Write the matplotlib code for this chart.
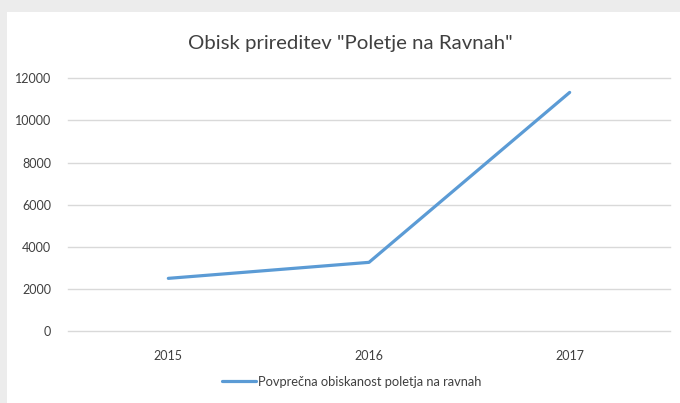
import matplotlib.pyplot as plt
from matplotlib.patches import Rectangle

years = ['2015', '2016', '2017']
obisk = [2500, 3260, 11330]
yticks = [0, 2000, 4000, 6000, 8000, 10000, 12000]

plt.rcParams['font.family'] = ['Lato', 'DejaVu Sans']

fig = plt.figure(figsize=(6.8, 4.03), dpi=100)
fig.patch.set_facecolor('#ececec')
# white chart area
fig.patches.append(Rectangle((7 / 680, 0), 1, 1 - 12 / 403, transform=fig.transFigure,
                             facecolor='white', edgecolor='none', zorder=-10))

ax = fig.add_axes([68 / 680, 1 - 331 / 403, 602 / 680, 252.7 / 403])
ax.set_facecolor('white')
x = range(len(years))
ax.plot(x, obisk, color='#5b9bd5', linewidth=2.3, solid_capstyle='round',
        label='Povprečna obiskanost poletja na ravnah')

ax.set_xlim(-0.5, len(years) - 0.5)
ax.set_ylim(0, 12000)
ax.set_xticks(list(x))
ax.set_xticklabels(years)
ax.set_yticks(yticks)
ax.set_yticklabels([str(v) for v in yticks])
ax.grid(axis='y', color='#d9d9d9', linewidth=1)
for gl in ax.get_ygridlines():
    gl.set_clip_on(False)
ax.set_axisbelow(True)
for s in ax.spines.values():
    s.set_visible(False)
ax.tick_params(length=0, labelsize=9, colors='#404040')
ax.tick_params(axis='x', pad=14)
ax.tick_params(axis='y', pad=12)

fig.text(350 / 680, 1 - 43 / 403, 'Obisk prireditev "Poletje na Ravnah"', ha='center', va='center',
         fontsize=14.7, color='#404040')

fig.legend(loc='center', bbox_to_anchor=(352 / 680, 1 - 382 / 403), frameon=False,
           fontsize=9.3, handlelength=2.6, handletextpad=0.2, labelcolor='#404040')

fig.savefig('out.png', dpi=100, facecolor=fig.get_facecolor())
